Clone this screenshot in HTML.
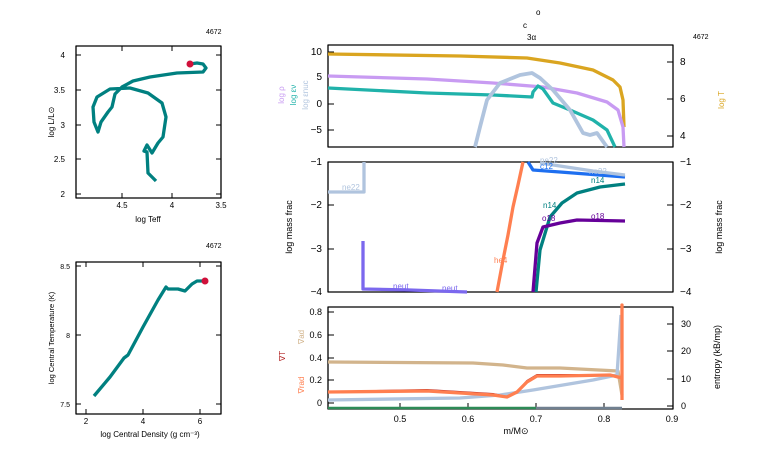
<!DOCTYPE html>
<html><head><meta charset="utf-8"><style>
html,body{margin:0;padding:0;background:#fff;}
svg{display:block;font-family:"Liberation Sans",sans-serif;}
</style></head><body>
<svg width="766" height="460" viewBox="0 0 766 460" xmlns="http://www.w3.org/2000/svg">
<g fill="none" stroke-linejoin="round" stroke-linecap="butt">
<rect x="76" y="46" width="145" height="152" stroke="#000" stroke-width="1.3"/>
<g stroke="#000" stroke-width="1">
<path d="M76 55h5M76 90h5M76 125h5M76 159h5M76 194h5M221 55h-5M221 90h-5M221 125h-5M221 159h-5M221 194h-5"/>
<path d="M122 198v-5M172 198v-5M122 46v5M172 46v5"/>
</g>
<polyline stroke="#008080" stroke-width="3.3" points="156,181 148,173 147,152 144,151 147,145 152,153 158,143 163,137 166,117 162,103 148,93 130,88 110,89 97,97 93,107 94,122 98,132 101,122 108,112 112,107 115,94 122,87 133,81 150,77 177,73 203,72 206,68 203,64 197,63 190,64"/>
<circle cx="190" cy="64" r="3.5" fill="#d0103a" stroke="none"/>
<rect x="76" y="262" width="145" height="152" stroke="#000" stroke-width="1.3"/>
<g stroke="#000" stroke-width="1">
<path d="M76 266h5M76 335h5M76 404h5M221 266h-5M221 335h-5M221 404h-5M86 414v-5M143 414v-5M200 414v-5M86 262v5M143 262v5M200 262v5"/>
</g>
<polyline stroke="#008080" stroke-width="3.3" points="94,396 110,377 124,358 128,355 143,327 158,300 166,287 168,289 178,289 185,291 192,284 197,281 205,281"/>
<circle cx="205" cy="281" r="3.5" fill="#d0103a" stroke="none"/>

<rect x="328" y="45" width="345" height="102" stroke="#000" stroke-width="1.3"/>
<g stroke="#000" stroke-width="1"><path d="M328 52h6M328 77h6M328 104h6M328 130h6M673 62h-6M673 99h-6M673 136h-6"/></g>
<polyline stroke="#daa520" stroke-width="3.3" points="328,54 460,56 527,58 560,63 593,70 613,80 620,87 623,100 624,127"/>
<polyline stroke="#c89bf2" stroke-width="3.3" points="328,76 427,79 493,83 543,87 577,93 607,102 618,110 623,127 624,147"/>
<polyline stroke="#20b2aa" stroke-width="3.3" points="328,88 427,93 493,95 532,97 533,92 538,86 543,89 553,103 570,110 593,120 607,130 615,147"/>
<polyline stroke="#b0c4de" stroke-width="3.8" points="475,147 480,127 487,100 500,83 520,75 532,73 540,78 553,90 570,110 583,133 590,135 597,133 607,147"/>

<rect x="328" y="162" width="345" height="130" stroke="#000" stroke-width="1.3"/>
<g stroke="#000" stroke-width="1"><path d="M328 205h6M328 249h6M673 205h-6M673 249h-6"/></g>
<polyline stroke="#b0c4de" stroke-width="3.3" points="328,192 364,192 364,162"/>
<polyline stroke="#7b68ee" stroke-width="3.3" points="363,241 363,289 410,290 467,292"/>
<polyline stroke="#ff7f50" stroke-width="3.3" points="497,292 503,260 508,235 513,207 518,185 523,162"/>
<polyline stroke="#1e6ff0" stroke-width="3.3" points="528,162 533,170 560,172 625,177"/>
<polyline stroke="#b0c4de" stroke-width="3.3" points="540,163 593,171 625,175"/>
<polyline stroke="#008080" stroke-width="3.3" points="536,292 540,250 550,217 562,203 577,193 600,187 625,184"/>
<polyline stroke="#660099" stroke-width="3.3" points="533,292 537,243 543,227 560,223 577,220 625,221"/>

<rect x="328" y="307" width="345" height="102" stroke="#000" stroke-width="1.3"/>
<g stroke="#000" stroke-width="1"><path d="M328 312h6M328 335h6M328 358h6M328 380h6M328 403h6M673 324h-6M673 351h-6M673 379h-6M673 406h-6M400 409v-6M468 409v-6M536 409v-6M604 409v-6"/></g>
<polyline stroke="#d2b48c" stroke-width="3.3" points="328,362 473,363 503,365 527,368 560,368 618,371 622,395"/>
<polyline stroke="#b0c4de" stroke-width="3.3" points="328,400 460,398 500,395 533,390 593,380 617,375 621,315"/>
<polyline stroke="#b22222" stroke-width="2" points="328,392 427,390 493,394 507,397 517,392 527,381 537,375 560,375 610,375 618,377 622,378"/>
<polyline stroke="#ff7f50" stroke-width="3.3" points="328,392 427,391 493,395 507,397 517,392 527,382 537,376 560,376 610,375 618,377 622,378 622,305 622,400"/>
<line x1="328" y1="408" x2="536" y2="408" stroke="#2e8b57" stroke-width="2.5"/>
<line x1="536" y1="408" x2="622" y2="408" stroke="#708090" stroke-width="2.5"/>
</g>

<g font-size="8" fill="#000">
<text x="206" y="34" font-size="7">4672</text>
<text x="206" y="248" font-size="7">4672</text>
<text x="693" y="39" font-size="7">4672</text>
<text x="65" y="58" text-anchor="end">4</text>
<text x="65" y="93" text-anchor="end">3.5</text>
<text x="65" y="128" text-anchor="end">3</text>
<text x="65" y="162" text-anchor="end">2.5</text>
<text x="65" y="197" text-anchor="end">2</text>
<text x="122" y="208" text-anchor="middle">4.5</text>
<text x="172" y="208" text-anchor="middle">4</text>
<text x="221" y="208" text-anchor="middle">3.5</text>
<text x="148" y="222" text-anchor="middle">log Teff</text>
<text transform="translate(54,122) rotate(-90)" text-anchor="middle">log L/L⊙</text>
<text x="70" y="269" text-anchor="end" font-size="7">8.5</text>
<text x="70" y="338" text-anchor="end" font-size="7">8</text>
<text x="70" y="407" text-anchor="end" font-size="7">7.5</text>
<text x="86" y="424" text-anchor="middle">2</text>
<text x="143" y="424" text-anchor="middle">4</text>
<text x="200" y="424" text-anchor="middle">6</text>
<text x="150" y="437" text-anchor="middle">log Central Density (g cm⁻³)</text>
<text transform="translate(54,338) rotate(-90)" text-anchor="middle" font-size="7.5">log Central Temperature (K)</text>

<text x="536" y="15">o</text>
<text x="523" y="28">c</text>
<text x="527" y="40">3α</text>
<text x="322" y="55" text-anchor="end" font-size="10">10</text>
<text x="322" y="80" text-anchor="end" font-size="10">5</text>
<text x="322" y="107" text-anchor="end" font-size="10">0</text>
<text x="322" y="133" text-anchor="end" font-size="10">−5</text>
<text x="680" y="65" font-size="10">8</text>
<text x="680" y="102" font-size="10">6</text>
<text x="680" y="139" font-size="10">4</text>
<text transform="translate(284,95) rotate(-90)" text-anchor="middle" fill="#c89bf2">log ρ</text>
<text transform="translate(296,95) rotate(-90)" text-anchor="middle" fill="#20b2aa">log εν</text>
<text transform="translate(308,95) rotate(-90)" text-anchor="middle" fill="#b0c4de">log εnuc</text>
<text transform="translate(724,100) rotate(-90)" text-anchor="middle" fill="#daa520">log T</text>

<text x="322" y="165" text-anchor="end" font-size="10">−1</text>
<text x="322" y="208" text-anchor="end" font-size="10">−2</text>
<text x="322" y="252" text-anchor="end" font-size="10">−3</text>
<text x="322" y="295" text-anchor="end" font-size="10">−4</text>
<text x="680" y="165" font-size="10">−1</text>
<text x="680" y="208" font-size="10">−2</text>
<text x="680" y="252" font-size="10">−3</text>
<text x="680" y="295" font-size="10">−4</text>
<text transform="translate(292,227) rotate(-90)" text-anchor="middle" font-size="9">log mass frac</text>
<text transform="translate(722,227) rotate(-90)" text-anchor="middle" font-size="9">log mass frac</text>
<text x="342" y="190" fill="#b0c4de">ne22</text>
<text x="393" y="289" fill="#7b68ee">neut</text>
<text x="442" y="291" fill="#7b68ee">neut</text>
<text x="494" y="263" fill="#ff7f50">he4</text>
<text x="540" y="163" fill="#b0c4de">ne22</text>
<text x="540" y="169" fill="#1e6ff0">c12</text>
<text x="589" y="174" fill="#b0c4de">ne22</text>
<text x="591" y="183" fill="#008080">n14</text>
<text x="543" y="208" fill="#008080">n14</text>
<text x="542" y="221" fill="#660099">o18</text>
<text x="591" y="219" fill="#660099">o18</text>

<text x="322" y="315" text-anchor="end" font-size="9">0.8</text>
<text x="322" y="338" text-anchor="end" font-size="9">0.6</text>
<text x="322" y="361" text-anchor="end" font-size="9">0.4</text>
<text x="322" y="383" text-anchor="end" font-size="9">0.2</text>
<text x="322" y="406" text-anchor="end" font-size="9">0</text>
<text x="681" y="327" font-size="9">30</text>
<text x="681" y="354" font-size="9">20</text>
<text x="681" y="382" font-size="9">10</text>
<text x="681" y="409" font-size="9">0</text>
<text x="400" y="422" text-anchor="middle" font-size="9">0.5</text>
<text x="468" y="422" text-anchor="middle" font-size="9">0.6</text>
<text x="536" y="422" text-anchor="middle" font-size="9">0.7</text>
<text x="604" y="422" text-anchor="middle" font-size="9">0.8</text>
<text x="672" y="422" text-anchor="middle" font-size="9">0.9</text>
<text x="516" y="434" text-anchor="middle" font-size="9">m/M⊙</text>
<text transform="translate(304,337) rotate(-90)" text-anchor="middle" fill="#d2b48c">∇ad</text>
<text transform="translate(285,356) rotate(-90)" text-anchor="middle" fill="#b22222">∇T</text>
<text transform="translate(304,385) rotate(-90)" text-anchor="middle" fill="#ff7f50">∇rad</text>
<text transform="translate(720,357) rotate(-90)" text-anchor="middle" font-size="9">entropy (kB/mp)</text>
</g>
</svg>
</body></html>
